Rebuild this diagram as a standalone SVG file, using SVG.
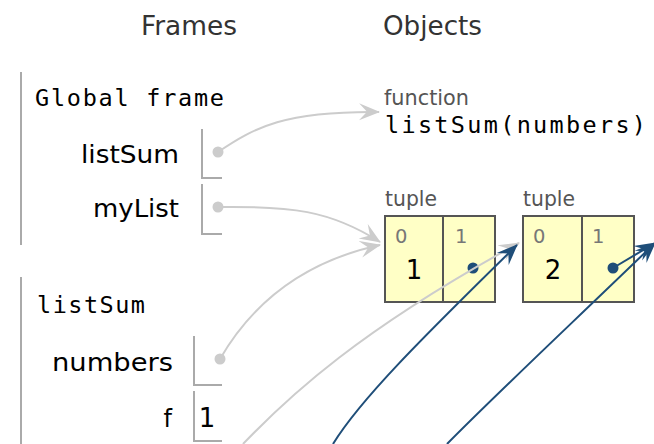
<svg xmlns="http://www.w3.org/2000/svg" width="654" height="444" viewBox="0 0 654 444">
<style>
.hdr{font-family:"DejaVu Sans",Verdana,sans-serif;font-size:26px;fill:#333}
.mono{font-family:"DejaVu Sans Mono","Liberation Mono",monospace;font-size:23.5px;fill:#000}
.var{font-family:"DejaVu Sans",Verdana,sans-serif;font-size:24px;fill:#000}
.lbl{font-family:"DejaVu Sans",Verdana,sans-serif;font-size:20.5px;fill:#555}
.idx{font-family:"DejaVu Sans",Verdana,sans-serif;font-size:19.5px;fill:#777}
.val{font-family:"DejaVu Sans",Verdana,sans-serif;font-size:26px;fill:#000}
.bar{stroke:#aaa;stroke-width:2;fill:none}
.box{stroke:#aaa;stroke-width:2;fill:none}
.cell{fill:#ffffc6;stroke:#555;stroke-width:2}
.gdot{fill:#ccc}
.bdot{fill:#1f4e79}
.garr{fill:none;stroke:#ccc;stroke-width:2;marker-end:url(#ga)}
.barr{fill:none;stroke:#1f4e79;stroke-width:2;marker-end:url(#ba)}
</style>
<defs>
<marker id="ga" markerUnits="userSpaceOnUse" orient="auto" markerWidth="24" markerHeight="20" refX="20" refY="9" viewBox="0 0 24 20">
<path d="M21,9 L0,0.5 L8,9 L0,17.5 Z" fill="#ccc"/>
</marker>
<marker id="ba" markerUnits="userSpaceOnUse" orient="auto" markerWidth="24" markerHeight="20" refX="20" refY="9" viewBox="0 0 24 20">
<path d="M21,9 L0,0.5 L8,9 L0,17.5 Z" fill="#1f4e79"/>
</marker>
</defs>
<rect width="654" height="444" fill="#fff"/>
<text class="hdr" x="141" y="35" textLength="96" lengthAdjust="spacingAndGlyphs">Frames</text>
<text class="hdr" x="383" y="35" textLength="99" lengthAdjust="spacingAndGlyphs">Objects</text>

<g id="global-frame">
<line class="bar" x1="21" y1="72" x2="21" y2="245"/>
<text class="mono" x="35" y="106" textLength="189" lengthAdjust="spacing">Global frame</text>
<text class="var" x="81" y="163" textLength="98" lengthAdjust="spacingAndGlyphs">listSum</text>
<path class="box" d="M202,129 V178 H222"/>
<circle class="gdot" cx="218" cy="152" r="5.5"/>
<text class="var" x="93" y="217" textLength="86" lengthAdjust="spacingAndGlyphs">myList</text>
<path class="box" d="M202,184 V234 H222"/>
<circle class="gdot" cx="218" cy="207" r="5.5"/>
</g>

<g id="listSum-frame">
<line class="bar" x1="21" y1="277" x2="21" y2="444"/>
<text class="mono" x="37" y="313" textLength="108" lengthAdjust="spacing">listSum</text>
<text class="var" x="52" y="371" textLength="121" lengthAdjust="spacingAndGlyphs">numbers</text>
<path class="box" d="M194,336 V385 H222"/>
<circle class="gdot" cx="220" cy="359" r="5.5"/>
<text class="var" x="172" y="427" text-anchor="end">f</text>
<path class="box" d="M194,391 V441 H222"/>
<text class="val" x="207" y="427" text-anchor="middle" font-size="24">1</text>
</g>

<g id="function-obj">
<text class="lbl" x="384" y="105" textLength="85" lengthAdjust="spacingAndGlyphs">function</text>
<text class="mono" x="385" y="133" textLength="261" lengthAdjust="spacing">listSum(numbers)</text>
</g>

<g id="tuple1">
<text class="lbl" x="385" y="206" textLength="52" lengthAdjust="spacingAndGlyphs">tuple</text>
<rect class="cell" x="385" y="216" width="58" height="86"/>
<rect class="cell" x="443" y="216" width="52" height="86"/>
<text class="idx" x="395" y="243">0</text>
<text class="idx" x="455" y="243">1</text>
<text class="val" x="414" y="279" text-anchor="middle">1</text>
<circle class="bdot" cx="473" cy="268" r="5.5"/>
</g>

<g id="tuple2">
<text class="lbl" x="523" y="206" textLength="52" lengthAdjust="spacingAndGlyphs">tuple</text>
<rect class="cell" x="523" y="216" width="59" height="86"/>
<rect class="cell" x="582" y="216" width="52" height="86"/>
<text class="idx" x="533" y="243">0</text>
<text class="idx" x="592" y="243">1</text>
<text class="val" x="553" y="279" text-anchor="middle">2</text>
<circle class="bdot" cx="613" cy="268" r="5.5"/>
</g>

<g id="connectors">
<path class="garr" d="M218,152 C255,127 285,111 379,112"/>
<path class="garr" d="M218,207 C290,206 330,210 380,242"/>
<path class="garr" d="M220,359 C260,290 320,258 380,245"/>
<path class="garr" d="M243,444 C290,395 360,330 519,243"/>
<path class="barr" d="M333,444 C360,400 420,340 517,245"/>
<path class="barr" d="M447,444 C490,400 570,325 655,243"/>
<path class="barr" d="M613,268 L655,243"/>
</g>
</svg>
